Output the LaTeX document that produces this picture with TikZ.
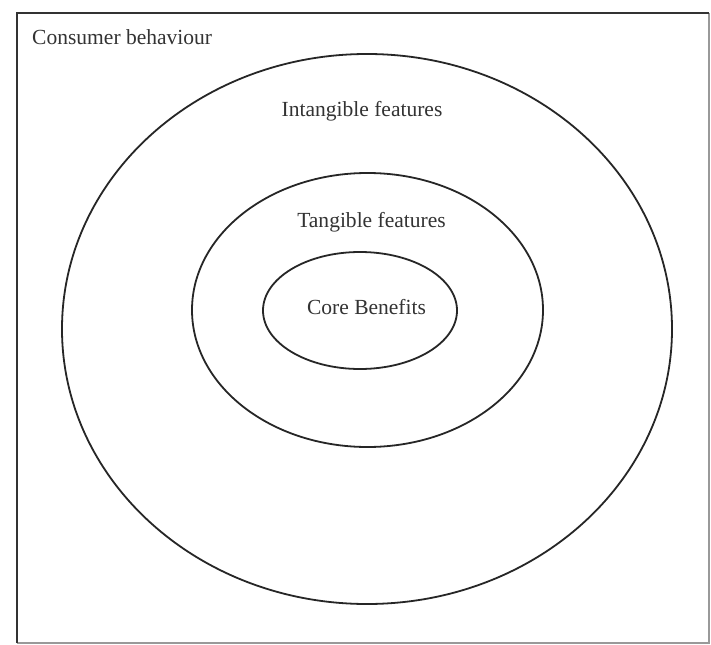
\documentclass[tikz,border=0pt]{standalone}
\usepackage{fontspec}
\setmainfont{Liberation Serif}
\usetikzlibrary{shapes.geometric}
\begin{document}
\begin{tikzpicture}[x=1bp,y=-1bp,
  ring/.style={draw=black!85,line width=1.8bp,ellipse,inner sep=0pt,outer sep=0pt},
  lbl/.style={inner sep=0pt,font=\fontsize{21.6}{25}\selectfont,text=black!80}]
\useasboundingbox (0,0) rectangle (711,645);
\fill[white] (0,0) rectangle (711,645);
% frame
\draw[black!40,line width=1.2bp] (709,13) -- (709,643) -- (17,643);
\draw[black!80,line width=2.2bp] (17,643) -- (17,13) -- (709,13);
% rings
\node[ring,minimum width=610bp,minimum height=550bp] (outer) at (367,329) {};
\node[ring,minimum width=351bp,minimum height=274bp] (middle) at (367.5,310) {};
\node[ring,minimum width=194bp,minimum height=117bp] (inner) at (360,310.5) {};
% labels
\node[lbl,anchor=base west] (cb) at (32,45) {Consumer behaviour};
\node[lbl,anchor=base] (intang) at (362,117) {Intangible features};
\node[lbl,anchor=base] (tang) at (371.5,227) {Tangible features};
\node[lbl,anchor=base] (core) at (366.5,314) {Core Benefits};
\end{tikzpicture}
\end{document}
